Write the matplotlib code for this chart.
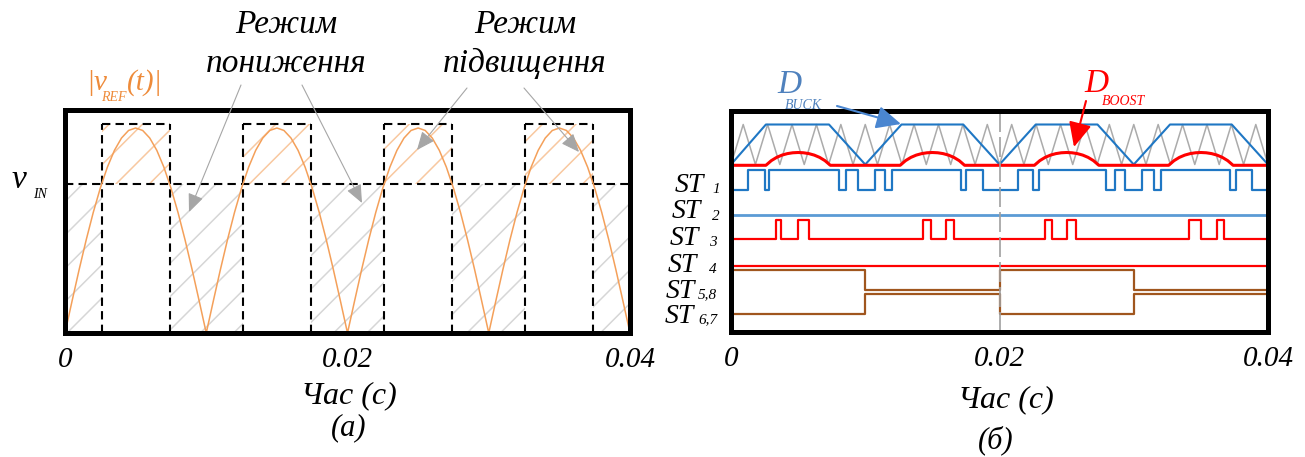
import numpy as np
import matplotlib
matplotlib.use("Agg")
import matplotlib.pyplot as plt
from matplotlib.patches import FancyArrowPatch

plt.rcParams['font.family'] = ['Liberation Serif', 'DejaVu Serif']
plt.rcParams['font.style'] = 'italic'
plt.rcParams['hatch.linewidth'] = 1.1

W, H = 1305, 457
t_end = 0.04

# ---- (а) rectified reference voltage, normalised to its peak ----
half_starts = [0.0, 0.01, 0.02, 0.03]
vref_hump = [0.0, 0.156, 0.309, 0.454, 0.588, 0.707, 0.809, 0.891, 0.951, 0.988, 1.0,
             0.988, 0.951, 0.891, 0.809, 0.707, 0.588, 0.454, 0.309, 0.156, 0.0]
v_in = 0.727
boost_top = 1.02
boost_start = [0.0026, 0.0126, 0.0226, 0.0326]
boost_stop = [0.0074, 0.0174, 0.0274, 0.0374]
buck_start = [0.0, 0.0074, 0.0174, 0.0274, 0.0374]
buck_stop = [0.0026, 0.0126, 0.0226, 0.0326, 0.04]

# ---- (б) carrier, duty cycles and gate signals ----
carrier_levels = [0, 1] * 22 + [0]
d_buck_t = [0, 0.0026, 0.0073, 0.01, 0.0127, 0.0173, 0.02,
            0.0227, 0.0273, 0.03, 0.0327, 0.0373, 0.04]
d_buck = [0, 1, 1, 0, 1, 1, 0, 1, 1, 0, 1, 1, 0]
d_boost_hump = [0, 0.116, 0.198, 0.255, 0.292, 0.313, 0.32,
                0.313, 0.292, 0.255, 0.198, 0.116, 0]
st1_edges = [0.00125, 0.0025, 0.00282, 0.00807, 0.00854, 0.00944,
             0.01069, 0.01148, 0.01199, 0.01713, 0.0175, 0.01875,
             0.02135, 0.02247, 0.02297, 0.02796, 0.02859, 0.02934,
             0.0306, 0.0315, 0.0320, 0.0372, 0.0376, 0.0388]
st3_edges = [0.00332, 0.00375, 0.005, 0.00582, 0.01431, 0.0149, 0.01605, 0.0166,
             0.02336, 0.0239, 0.02505, 0.02573, 0.03414, 0.035, 0.0362, 0.0367]
st58_edges = [0.01, 0.02, 0.03]
st67_edges = [0.01, 0.02, 0.03]

orange = '#F4A05A'
gray_hatch = '#D6D6D6'
orange_hatch = '#F8C8A0'
arrow_gray = '#A6A6A6'
blue = '#1F77C4'
light_blue = '#5B9BD5'
label_blue = '#4F81BD'
red = '#FF0000'
brown = '#A0561E'


def pulses(edges, first=0):
    t, v, level = [0.0], [first], first
    for e in edges:
        t += [e, e]
        v += [level, 1 - level]
        level = 1 - level
    t.append(t_end)
    v.append(level)
    return np.array(t), np.array(v)


def label(x, y, s, size, color='black', **kw):
    fig.text(x / W, 1 - y / H, s, fontsize=size, color=color, va='baseline', **kw)


def arrow(x0, y0, x1, y1, color, lw, scale, hl=0.7, hw=0.3):
    fig.add_artist(FancyArrowPatch((x0 / W, 1 - y0 / H), (x1 / W, 1 - y1 / H),
                                   transform=fig.transFigure, color=color, lw=lw,
                                   arrowstyle=f'-|>,head_length={hl},head_width={hw}',
                                   mutation_scale=scale, shrinkA=0, shrinkB=0))


fig = plt.figure(figsize=(W / 100, H / 100), dpi=100)
ax1 = fig.add_axes([65 / W, 1 - 333 / H, 565 / W, 223 / H])
ax2 = fig.add_axes([731 / W, 1 - 332 / H, 537 / W, 221 / H])

# ---------------- panel (а) ----------------
for a, b in zip(buck_start, buck_stop):
    ax1.fill_between([a, b], 0, v_in, facecolor='none', edgecolor=gray_hatch,
                     hatch='/', linewidth=0)
for a, b in zip(boost_start, boost_stop):
    ax1.fill_between([a, b], v_in, boost_top, facecolor='none', edgecolor=orange_hatch,
                     hatch='/', linewidth=0)

dash = dict(color='black', lw=1.5, linestyle=(0, (4, 2.5)))
ax1.axhline(v_in, **dash)
for a, b in zip(boost_start, boost_stop):
    ax1.plot([a, a], [0, boost_top], **dash)
    ax1.plot([b, b], [0, boost_top], **dash)
    ax1.plot([a, b], [boost_top, boost_top], **dash)

t_ref = np.concatenate([np.linspace(s, s + 0.01, len(vref_hump)) for s in half_starts])
v_ref = np.concatenate([vref_hump] * len(half_starts))
ax1.plot(t_ref, v_ref, color=orange, lw=1.1)

ax1.set_xlim(0, t_end)
ax1.set_ylim(0, 223 / 205)

# ---------------- panel (б) ----------------
mod_base, mod_amp = 167.5, 40
ax2.plot(np.linspace(0, t_end, len(carrier_levels)),
         mod_base + mod_amp * np.array(carrier_levels), color='#ABABAB', lw=1.1)
ax2.plot(d_buck_t, mod_base + mod_amp * np.array(d_buck), color=blue, lw=1.5)

tb, vb = [0.0], [0.0]
for a, b in zip(boost_start, boost_stop):
    tb += list(np.linspace(a, b, len(d_boost_hump)))
    vb += d_boost_hump
tb.append(t_end)
vb.append(0.0)
ax2.plot(tb, mod_base - 0.8 + mod_amp * np.array(vb), color=red, lw=2.2)

t1, v1 = pulses(st1_edges)
ax2.plot(t1, 142 + 20.5 * v1, color=blue, lw=1.6)
ax2.plot([0, t_end], [117, 117], color=light_blue, lw=2.0)
t3, v3 = pulses(st3_edges)
ax2.plot(t3, 93 + 19.5 * v3, color=red, lw=1.6)
ax2.plot([0, t_end], [66, 66], color=red, lw=1.6)
t58, v58 = pulses(st58_edges, first=1)
ax2.plot(t58, 42 + 20 * v58, color=brown, lw=1.6)
t67, v67 = pulses(st67_edges, first=0)
ax2.plot(t67, 18 + 20 * v67, color=brown, lw=1.6)

ax2.axvline(0.02, color='#A0A0A0', lw=1.2, linestyle=(0, (12, 3)))
ax2.set_xlim(0, t_end)
ax2.set_ylim(0, 221)

for ax in (ax1, ax2):
    for sp in ax.spines.values():
        sp.set_linewidth(3.6)
    ax.set_yticks([])
    ax.set_xticks([0, 0.02, 0.04], ['0', '0.02', '0.04'])
    ax.tick_params(axis='x', length=0, labelsize=21, pad=10)

# ---------------- annotations ----------------
label(286, 33, 'Режим', 24, ha='center')
label(286, 72, 'пониження', 24, ha='center')
label(525, 33, 'Режим', 24, ha='center')
label(525, 72, 'підвищення', 24, ha='center')
arrow(241, 85, 189, 212, arrow_gray, 0.8, 16)
arrow(302, 85, 362, 203, arrow_gray, 0.8, 16)
arrow(467, 88, 417, 150, arrow_gray, 0.8, 16)
arrow(524, 88, 579, 152, arrow_gray, 0.8, 16)

label(86, 90, '|v', 21, color='#EE8B3A')
label(101, 101, 'REF', 10, color='#EE8B3A')
label(127, 90, '(t)|', 21, color='#EE8B3A')
label(12, 188, 'v', 24)
label(33, 198, 'IN', 10)

label(777, 93, 'D', 24, color=label_blue)
label(785, 109, 'BUCK', 10, color=label_blue)
label(1084, 92, 'D', 24, color=red)
label(1102, 105, 'BOOST', 10, color=red)
arrow(837, 106, 901, 124, '#4A86D0', 1.5, 20, 0.75, 0.35)
arrow(1086, 101, 1074, 147, red, 1.5, 20, 0.75, 0.35)

st_rows = [('ST', '1', 675, 192, 712, 193), ('ST', '2', 672, 218, 712, 220),
           ('ST', '3', 670, 245, 709, 246), ('ST', '4', 668, 272, 709, 273),
           ('ST', '5,8', 666, 298, 698, 298), ('ST', '6,7', 665, 323, 698, 323)]
for main, sub, x0, y0, xs, ys in st_rows:
    label(x0, y0, main, 20)
    label(xs, ys, sub, 11)

label(349, 403, 'Час (с)', 23, ha='center')
label(349, 435, '(а)', 22, ha='center')
label(1006, 407, 'Час (с)', 23, ha='center')
label(996, 448, '(б)', 22, ha='center')

fig.savefig('out.png', dpi=100)
